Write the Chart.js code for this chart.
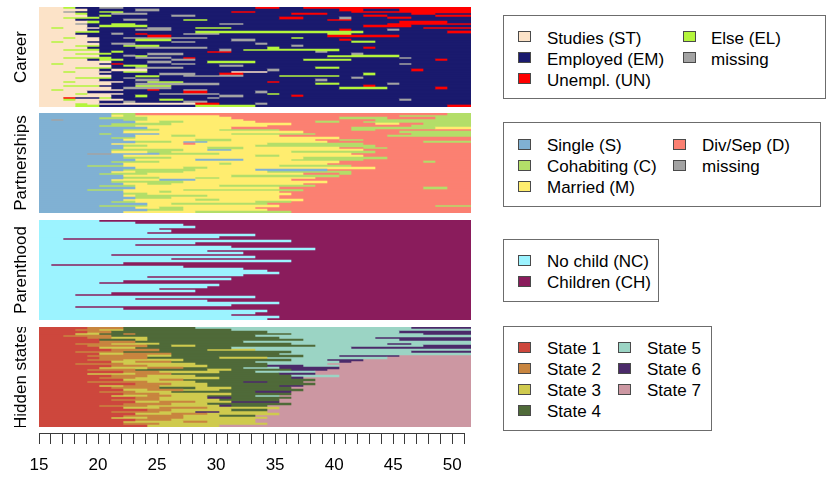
<!DOCTYPE html>
<html>
<head>
<meta charset="utf-8">
<script src="https://cdn.jsdelivr.net/npm/chart.js@4.4.1/dist/chart.umd.min.js"></script>
<style>
  body { margin: 0; background: #fff; width: 826px; height: 479px; position: relative; overflow: hidden;
         font-family: 'Liberation Sans', Arial, sans-serif; }
  canvas { position: absolute; left: 0; }
  .box { position: absolute; border: 1px solid #6c6c6c; box-sizing: border-box; }
  .txt { position: absolute; font-size: 17px; line-height: 20px; color: #000; white-space: nowrap; }
  .sw { position: absolute; width: 13px; height: 11px; border: 1px solid #4a4a4a; box-sizing: border-box; }
</style>
</head>
<body>
<canvas id="career" width="475" height="100" style="top:7px"></canvas>
<canvas id="partner" width="475" height="100" style="top:113px"></canvas>
<canvas id="parent" width="475" height="100" style="top:220px"></canvas>
<canvas id="hidden" width="475" height="100" style="top:327px"></canvas>
<canvas id="axis" width="475" height="51" style="top:428px"></canvas>
<div id="legends"></div>
<script>
const AGE_MIN = 15;
const AGE_MAX = 51;
const tickLabels = [15, 20, 25, 30, 35, 40, 45, 50];

// Career channel
const careerStates = ['ST', 'EM', 'UN', 'EL', 'NA'];
const careerLabels = ['Studies (ST)', 'Employed (EM)', 'Unempl. (UN)', 'Else (EL)', 'missing'];
const careerColors = ['#FCE3C8', '#1A1A6E', '#FF0000', '#B4F53C', '#A3A3A3'];
// each row: state:startAge, a spell lasts until the next start (or age 51)
const careerSeqs = [
  'ST:15 EL:17 EM:18 NA:20 EM:22 UN:33 EM:35 UN:37',
  'ST:15 EM:19 NA:23 EM:25 UN:40 EM:42 UN:45',
  'ST:15 NA:17 EM:18 EL:20 EM:22 UN:31 EM:33 UN:41',
  'ST:15 EL:18 EM:19 NA:21 EM:24 UN:36 EM:39 UN:46 EM:48',
  'ST:15 EM:19 EL:20 EM:21 NA:26 EM:28 UN:42 EM:44 UN:48',
  'ST:15 EL:17 EM:20 UN:35 EM:37 NA:40 EM:41 UN:44 EM:46',
  'ST:15 EM:18 NA:22 EM:24 EL:27 EM:29 UN:39 EM:41',
  'ST:15 EL:19 EM:20 UN:45 EM:49',
  'ST:15 NA:18 EM:19 EL:21 EM:23 NA:30 EM:32 UN:44',
  'ST:15 EM:19 EL:20 EM:24 UN:42 EM:46',
  'ST:15 EL:16 ST:17 EM:20 NA:24 EM:26 EL:28 EM:31 UN:47',
  'ST:15 EM:19 NA:23 EM:26 UN:40 EM:41 NA:44 EM:45',
  'ST:15 EL:18 EM:20 EL:28 EM:42 UN:49',
  'ST:15 EM:18 NA:21 EM:22 UN:23 EM:24 NA:27 EM:30 EL:39 EM:41',
  'ST:15 EM:19 UN:24 EM:26 UN:39 EM:45',
  'ST:15 EL:17 ST:18 EM:20 NA:22 EM:29 EL:36 EM:37',
  'ST:15 EM:20 EL:23 EM:26 NA:31 EM:33 UN:40 EM:41',
  'ST:15 EL:16 ST:17 EM:19 NA:26 EM:28 EL:41 EM:43',
  'ST:15 EM:20 NA:21 EM:23 NA:33 EM:34',
  'ST:15 EL:18 EM:20 EL:22 EM:25 NA:36 EM:37',
  'ST:15 EM:19 NA:23 EM:29 EL:34 EM:35 UN:42 EM:43',
  'ST:15 EL:17 EM:20 NA:30 EM:31 EL:32 EM:40',
  'ST:15 EM:20 EL:21 EM:22 UN:29 EM:31 NA:38 EM:39',
  'ST:15 EL:18 EM:21 NA:24 EM:27 NA:41 EM:42',
  'ST:15 EM:20 NA:22 EL:23 EM:24 EL:39 EM:45',
  'ST:15 EL:17 EM:21 NA:23 EM:26 UN:27 EM:28 NA:45 EM:46',
  'ST:15 EM:19 EL:20 EM:22 NA:26 EM:28 EL:37 EM:41 UN:48 EM:49',
  'ST:15 EM:21 NA:24 EM:26 EL:29 EM:33',
  'ST:15 EL:16 ST:17 EM:20 UN:21 EM:22 NA:26 EM:28 NA:45 EM:46',
  'ST:15 EM:21 EL:22 EM:24 NA:30 EM:32',
  'ST:15 EL:18 EM:21 NA:23 EM:27 EL:38 EM:40',
  'ST:15 EM:20 ST:21 EM:24 NA:34 EM:35 UN:46 EM:47',
  'ST:15 EL:17 ST:18 EM:21 EL:22 EM:24 ST:31 EM:34',
  'ST:15 EM:20 NA:25 EM:28 UN:30 EM:32 EL:42 EM:43',
  'ST:15 EM:21 EL:23 EM:25 NA:27 EM:32 EL:35 EM:40',
  'ST:15 EL:18 EM:21 NA:22 EM:23 NA:41 EM:42',
  'ST:15 EM:20 NA:23 EM:25 NA:38 EM:39',
  'ST:15 EL:17 ST:18 EM:22 EL:24 EM:27 UN:34 EM:35',
  'ST:15 EM:21 NA:23 EM:30 EL:38 EM:40 NA:44 EM:45',
  'ST:15 EL:17 EM:20 EL:23 EM:26 UN:42 EM:43',
  'ST:15 EM:21 NA:22 EM:26 EL:40 EM:44 UN:48 EM:49',
  'ST:15 EL:16 ST:17 EM:22 UN:24 EM:25 NA:27 EM:29',
  'ST:15 EM:19 UN:27 EM:29 NA:33 EM:34',
  'ST:15 EL:18 ST:19 EM:22 NA:25 EM:30 EL:34 EM:35',
  'ST:15 EM:21 EL:23 EM:24 NA:30 EM:32 UN:36 EM:37',
  'ST:15 UN:17 EM:18 EL:20 EM:21 NA:29 EM:30',
  'ST:15 EL:17 ST:18 EM:22 EL:25 EM:27 NA:45 EM:46',
  'ST:15 EM:20 NA:22 EM:23 NA:27 EM:29',
  'ST:15 EL:18 ST:19 UN:28 EM:30 NA:33 EM:34',
  'ST:15 EL:18 EM:20 EL:28 EM:33 UN:49'
];

// Partnership channel
const partnerStates = ['S', 'C', 'M', 'D', 'NA'];
const partnerLabels = ['Single (S)', 'Cohabiting (C)', 'Married (M)', 'Div/Sep (D)', 'missing'];
const partnerColors = ['#80B1D3', '#B3DE69', '#FFED6F', '#FB8072', '#A3A3A3'];
const partnerSeqs = [
  'S:15 C:21 D:23 C:49',
  'S:15 M:21 C:22 M:23 D:30 C:45',
  'S:15 C:20 M:24 D:31 C:40 D:44 C:48',
  'S:15 NA:16 S:17 C:22 M:24 D:32 C:43',
  'S:15 M:23 C:25 M:27 D:33 C:38 D:40 C:42',
  'S:15 C:21 M:26 D:36 M:43 D:45 C:47',
  'S:15 C:20 M:23 D:34 C:46',
  'S:15 M:24 D:31 C:41 M:48',
  'S:15 C:22 M:25 C:30 D:35 C:41 D:43',
  'S:15 M:22 D:37 C:45',
  'S:15 C:20 S:21 M:25 C:31 D:38 C:46',
  'S:15 M:23 C:26 M:28 D:35 C:44',
  'S:15 C:21 M:23 D:40',
  'S:15 M:22 C:28 M:31 D:38 C:40 D:42',
  'S:15 C:23 M:26 S:27 M:29 D:39 C:47',
  'S:15 M:21 D:27 M:28 C:34 D:42',
  'S:15 C:22 M:24 C:33 D:43',
  'S:15 M:22 C:29 M:32 D:40 C:42 D:44',
  'S:15 C:21 M:27 S:29 M:31 D:42',
  'S:15 M:21 C:24 M:26 C:36 D:43',
  'S:15 NA:19 S:21 C:25 M:30 D:41',
  'S:15 M:22 C:33 M:35 D:42',
  'S:15 C:22 M:26 C:37 D:44',
  'S:15 M:23 S:28 M:32 C:36 D:42',
  'S:15 C:21 M:25 D:40 C:47 D:48',
  'S:15 M:22 C:30 M:31 D:39',
  'S:15 C:19 M:22 C:35 D:41',
  'S:15 M:23 C:27 M:29 D:43',
  'S:15 C:22 M:28 S:33 D:39',
  'S:15 M:21 C:23 M:27 C:34 D:41',
  'S:15 C:20 M:24 D:37 C:40 D:41',
  'S:15 M:22 C:31 D:40',
  'S:15 C:22 M:25 C:28 M:30 D:38',
  'S:15 M:21 S:25 M:28 D:36',
  'S:15 C:21 M:27 D:39',
  'S:15 M:22 C:24 M:26 D:37',
  'S:15 C:20 M:23 C:30 D:38',
  'S:15 M:23 D:35 C:47 D:49',
  'S:15 C:19 M:22 C:27 D:37',
  'S:15 M:22 C:25 M:26 D:35',
  'S:15 C:22 M:24 D:36',
  'S:15 M:22 C:23 M:29 D:35',
  'S:15 C:23 M:26 D:35',
  'S:15 M:22 C:28 M:30 D:37',
  'S:15 C:21 M:23 C:33 D:36',
  'S:15 M:24 C:26 D:34',
  'S:15 C:20 M:24 D:35 C:48',
  'S:15 M:23 C:25 M:27 D:33',
  'S:15 C:24 M:27 D:34',
  'S:15 M:22 C:28 D:36'
];

// Parenthood channel
const parentStates = ['NC', 'CH'];
const parentLabels = ['No child (NC)', 'Children (CH)'];
const parentColors = ['#9CF3FF', '#8A1C5C'];
const parentSeqs = [
  'NC:15 CH:20', 'NC:15 CH:23', 'NC:15 CH:27', 'NC:15 CH:28', 'NC:15 CH:25',
  'NC:15 CH:26', 'NC:15 CH:24', 'NC:15 CH:33', 'NC:15 CH:30', 'NC:15 CH:17',
  'NC:15 CH:36', 'NC:15 CH:28', 'NC:15 CH:23', 'NC:15 CH:31', 'NC:15 CH:38',
  'NC:15 CH:29', 'NC:15 CH:32', 'NC:15 CH:21', 'NC:15 CH:33', 'NC:15 CH:26',
  'NC:15 CH:36', 'NC:15 CH:22', 'NC:15 CH:16', 'NC:15 CH:27', 'NC:15 CH:32',
  'NC:15 CH:34', 'NC:15 CH:35', 'NC:15 CH:32', 'NC:15 CH:24', 'NC:15 CH:31',
  'NC:15 CH:22', 'NC:15 CH:20', 'NC:15 CH:30', 'NC:15 CH:29', 'NC:15 CH:25',
  'NC:15 CH:28', 'NC:15 CH:21', 'NC:15 CH:18', 'NC:15 CH:33', 'NC:15 CH:23',
  'NC:15 CH:29', 'NC:15 CH:35', 'NC:15 CH:31', 'NC:15 CH:18', 'NC:15 CH:22',
  'NC:15 CH:34', 'NC:15 CH:33', 'NC:15 CH:31', 'NC:15 CH:35', 'NC:15 CH:34'
];

// Hidden states
const hiddenStates = ['1', '2', '3', '4', '5', '6', '7'];
const hiddenLabels = ['State 1', 'State 2', 'State 3', 'State 4', 'State 5', 'State 6', 'State 7'];
const hiddenColors = ['#CD473D', '#C8853F', '#CFCA4E', '#4F6A39', '#9BD4C4', '#4B2A6A', '#CC97A2'];
const hiddenSeqs = [
  '1:15 2:19 4:22 5:28 6:46',
  '1:15 2:18 3:20 4:22 5:31',
  '1:15 2:19 4:21 5:34 6:45',
  '1:15 3:18 4:20 2:22 4:23 5:36 6:47',
  '1:15 2:17 4:21 5:33',
  '1:15 2:19 3:21 4:24 5:35 6:43',
  '1:15 4:20 3:23 4:24 5:37 6:45',
  '1:15 2:20 4:23 5:32',
  '1:15 2:18 3:21 4:25 5:36 6:44 5:46',
  '1:15 2:19 4:24 3:26 4:28 5:38 6:47',
  '1:15 3:20 4:23 5:31 6:41',
  '1:15 2:21 4:25 3:29 5:33',
  '1:15 2:18 4:22 5:36 6:46',
  '1:15 3:20 2:22 4:26 5:35',
  '1:15 2:19 3:24 4:26 5:37 6:40 7:45',
  '1:15 2:20 4:24 3:30 5:34 7:44',
  '1:15 2:19 3:22 4:27 5:36 6:39 7:42',
  '1:15 3:21 2:23 4:26 5:33 6:40 7:41',
  '1:15 2:18 3:22 4:28 5:34 7:39',
  '1:15 2:21 3:24 4:29 6:34 5:37 7:40',
  '1:15 3:20 2:24 4:27 5:32 6:35 7:40',
  '1:15 2:19 4:23 3:29 4:31 6:36 7:39',
  '1:15 2:22 3:25 4:30 5:33 7:38',
  '1:15 3:19 2:23 4:26 6:35 7:38',
  '1:15 2:21 3:24 4:28 5:36 7:40',
  '1:15 2:20 3:23 4:30 6:36 7:37',
  '1:15 3:22 2:25 4:27 7:38',
  '1:15 2:19 3:24 4:28 6:32 4:34 7:37',
  '1:15 2:23 3:26 4:29 7:38',
  '1:15 3:20 2:22 3:25 4:29 6:35 7:37',
  '1:15 2:21 4:25 3:28 4:31 7:36',
  '1:15 3:22 2:24 3:27 4:30 7:37',
  '1:15 2:20 3:23 4:26 6:33 7:36',
  '1:15 2:22 3:25 4:31 7:36',
  '1:15 3:21 2:24 3:26 4:29 5:33 7:35',
  '1:15 2:23 3:25 6:29 4:31 7:36',
  '1:15 2:21 3:25 4:30 7:35',
  '1:15 3:23 2:25 3:28 6:31 7:35',
  '1:15 2:22 3:26 4:29 7:36',
  '1:15 2:20 3:24 6:30 4:31 7:34',
  '1:15 3:22 2:25 3:29 7:35',
  '1:15 2:24 3:26 4:31 7:34',
  '1:15 2:21 3:25 6:28 3:30 7:34',
  '1:15 3:23 2:26 3:29 7:35',
  '1:15 2:22 3:27 4:30 7:33',
  '1:15 3:21 2:24 3:27 7:34',
  '1:15 2:23 3:26 7:33',
  '1:15 3:22 2:27 3:29 7:33',
  '1:15 2:22 3:25 7:34',
  '1:15 3:24 7:30'
];

const FONT = "'Liberation Sans', Arial, sans-serif";
Chart.defaults.font.family = FONT;

function toSpells(seq) {
  const toks = seq.split(' ').map(t => t.split(':'));
  return toks.map((t, i) => ({
    state: t[0],
    start: +t[1],
    end: i < toks.length - 1 ? +toks[i + 1][1] : AGE_MAX
  }));
}

function drawPanel(id, title, states, colors, seqs) {
  const rows = seqs.map(toSpells);
  const nSpells = Math.max(...rows.map(r => r.length));
  const colorOf = s => colors[states.indexOf(s)];
  const datasets = [];
  for (let k = 0; k < nSpells; k++) {
    datasets.push({
      data: rows.map(r => r[k] ? [r[k].start, r[k].end] : null),
      backgroundColor: rows.map(r => r[k] ? colorOf(r[k].state) : 'transparent'),
      borderWidth: 0,
      grouped: false,
      barPercentage: 1,
      categoryPercentage: 1
    });
  }
  new Chart(document.getElementById(id), {
    type: 'bar',
    data: { labels: seqs.map((_, i) => i + 1), datasets },
    options: {
      indexAxis: 'y',
      responsive: false,
      animation: false,
      layout: { padding: { left: 0, right: 4, top: 0, bottom: 0 } },
      plugins: { legend: { display: false }, tooltip: { enabled: false } },
      scales: {
        x: { type: 'linear', display: false, min: AGE_MIN, max: AGE_MAX },
        y: {
          grid: { display: false },
          border: { display: false },
          ticks: { display: false },
          title: { display: true, text: title, color: '#000', font: { size: 17 }, padding: { top: 11, bottom: 0 } },
          afterFit: s => { s.width = 39; }
        }
      }
    }
  });
}

drawPanel('career', 'Career', careerStates, careerColors, careerSeqs);
drawPanel('partner', 'Partnerships', partnerStates, partnerColors, partnerSeqs);
drawPanel('parent', 'Parenthood', parentStates, parentColors, parentSeqs);
drawPanel('hidden', 'Hidden states', hiddenStates, hiddenColors, hiddenSeqs);

// age axis under the panels
new Chart(document.getElementById('axis'), {
  type: 'scatter',
  data: { datasets: [] },
  options: {
    responsive: false,
    animation: false,
    layout: { padding: { left: 39, right: 4, top: 0, bottom: 0 } },
    plugins: { legend: { display: false }, tooltip: { enabled: false } },
    scales: {
      y: { display: false },
      x: {
        type: 'linear', min: AGE_MIN, max: AGE_MAX,
        grid: { drawOnChartArea: false, drawTicks: true, tickLength: 11, color: '#3a3a3a' },
        border: { display: true, color: '#3a3a3a' },
        ticks: {
          stepSize: 1, autoSkip: false, maxRotation: 0, padding: 11, color: '#000', font: { size: 17 },
          callback: v => tickLabels.includes(v) ? String(v) : ''
        },
        afterFit: s => { s.height = 46; }
      }
    }
  }
});

// legends (boxes on the right)
const legendBoxes = [
  { box: [503, 15, 323, 84], cols: [[518, 547], [683, 711]], tops: [28.5, 49.5, 70.5], per: 3,
    labels: careerLabels, colors: careerColors },
  { box: [503, 122, 318, 85], cols: [[518, 547], [673, 702]], tops: [136, 157, 178], per: 3,
    labels: partnerLabels, colors: partnerColors },
  { box: [503, 239, 156, 63], cols: [[518, 547]], tops: [252, 273], per: 2,
    labels: parentLabels, colors: parentColors },
  { box: [503, 326, 209, 105], cols: [[518, 547], [618, 647]], tops: [339, 360, 381, 402], per: 4,
    labels: hiddenLabels, colors: hiddenColors }
];
const host = document.getElementById('legends');
legendBoxes.forEach(lg => {
  const b = document.createElement('div');
  b.className = 'box';
  b.style.cssText = `left:${lg.box[0]}px;top:${lg.box[1]}px;width:${lg.box[2]}px;height:${lg.box[3]}px`;
  host.appendChild(b);
  lg.labels.forEach((label, i) => {
    const col = lg.cols[Math.floor(i / lg.per)];
    const top = lg.tops[i % lg.per];
    const sw = document.createElement('div');
    sw.className = 'sw';
    sw.style.cssText = `left:${col[0]}px;top:${top + 2.5}px;background:${lg.colors[i]}`;
    const t = document.createElement('div');
    t.className = 'txt';
    t.style.cssText = `left:${col[1]}px;top:${top}px`;
    t.textContent = label;
    host.appendChild(sw);
    host.appendChild(t);
  });
});
</script>
</body>
</html>
